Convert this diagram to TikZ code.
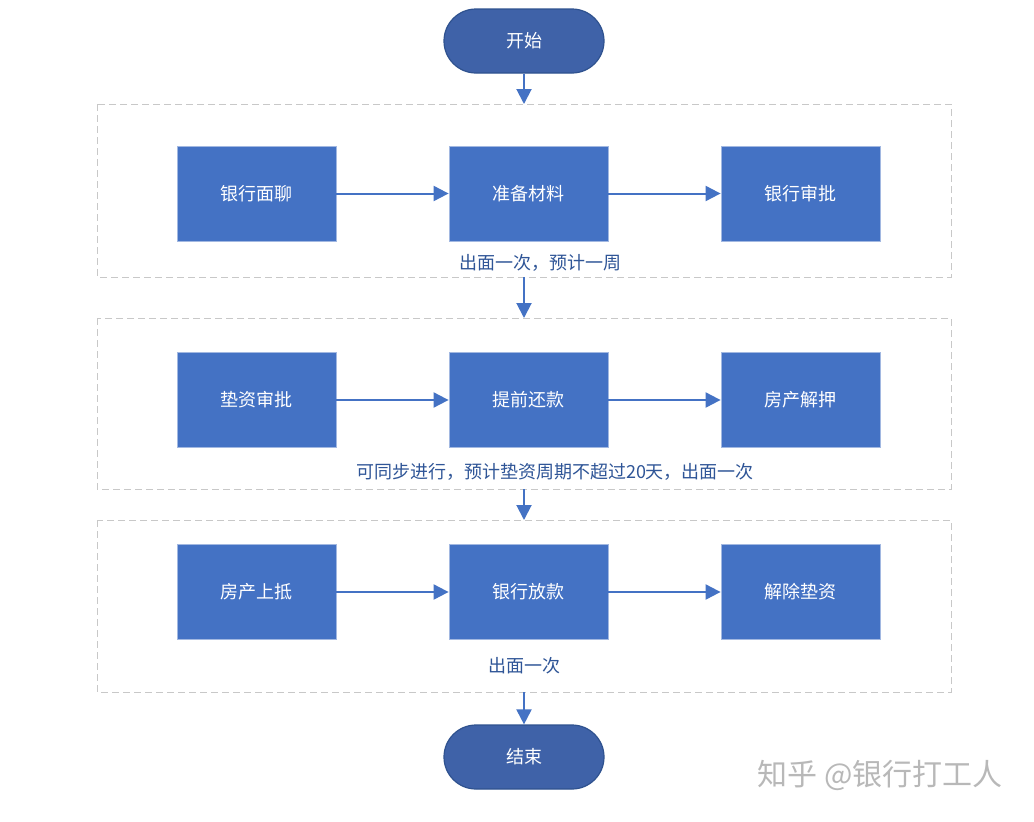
\documentclass[tikz,border=0pt]{standalone}
\usepackage{fontspec}
\setmainfont{Noto Sans CJK SC}
\usetikzlibrary{arrows.meta,shapes.misc}
\definecolor{boxblue}{HTML}{4472C4}
\definecolor{termblue}{HTML}{3F62A8}
\definecolor{termedge}{HTML}{2F528F}
\definecolor{lblblue}{HTML}{2F5597}
\definecolor{grpgray}{HTML}{C8C8C8}
\definecolor{wmgray}{HTML}{B8B8B8}
\tikzset{
  procbox/.style={draw=boxblue!50!white, line width=0.8pt, fill=boxblue, text=white,
    minimum width=159pt, minimum height=95pt, inner sep=0pt, font=\fontsize{18}{20}\selectfont},
  term/.style={rounded rectangle, draw=termedge, line width=1.2pt, fill=termblue, text=white,
    minimum width=160pt, minimum height=64pt, inner sep=0pt, font=\fontsize{18}{20}\selectfont},
  grp/.style={draw=grpgray, dashed, dash pattern=on 7pt off 4pt, line width=1pt},
  flow/.style={draw=boxblue, line width=2pt, -{Triangle[length=15pt,width=15pt]}},
  lbl/.style={text=lblblue, font=\fontsize{18}{20}\selectfont, inner sep=0pt},
}
\begin{document}
\begin{tikzpicture}[x=1pt,y=-1pt]
\useasboundingbox (0,0) rectangle (1034,822);
\fill[white] (0,0) rectangle (1034,822);
% groups
\draw[grp] (97,104) rectangle (951,277);
\draw[grp] (97,318) rectangle (951,489);
\draw[grp] (97,520) rectangle (951,692);
\coordinate (g1t) at (524,104);
\coordinate (g1b) at (524,277);
\coordinate (g2t) at (524,318);
\coordinate (g2b) at (524,489);
\coordinate (g3t) at (524,520);
\coordinate (g3b) at (524,692);
% terminals
\node[term] (start) at (524,41) {开始};
\node[term] (end) at (524,757) {结束};
% row 1
\node[procbox] (a1) at (256.5,193.5) {银行面聊};
\node[procbox] (a2) at (528.5,193.5) {准备材料};
\node[procbox] (a3) at (800.5,193.5) {银行审批};
% row 2
\node[procbox] (b1) at (256.5,400) {垫资审批};
\node[procbox] (b2) at (528.5,400) {提前还款};
\node[procbox] (b3) at (800.5,400) {房产解押};
% row 3
\node[procbox] (c1) at (256.5,592) {房产上抵};
\node[procbox] (c2) at (528.5,592) {银行放款};
\node[procbox] (c3) at (800.5,592) {解除垫资};
% labels
\node[lbl] (l1) at (540,263) {出面一次，预计一周};
\node[lbl] (l2) at (555,472) {可同步进行，预计垫资周期不超过20天，出面一次};
\node[lbl] (l3) at (524,666) {出面一次};
% arrows
\draw[flow] (start.south) -- (g1t);
\draw[flow] (g1b) -- (g2t);
\draw[flow] (g2b) -- (g3t);
\draw[flow] (g3b) -- (end.north);
\draw[flow] (a1) -- (a2);
\draw[flow] (a2) -- (a3);
\draw[flow] (b1) -- (b2);
\draw[flow] (b2) -- (b3);
\draw[flow] (c1) -- (c2);
\draw[flow] (c2) -- (c3);
% watermark
\node[text=wmgray, font=\fontsize{30}{32}\selectfont, inner sep=0pt] (wm) at (880,775) {知乎 @银行打工人};
\end{tikzpicture}
\end{document}
